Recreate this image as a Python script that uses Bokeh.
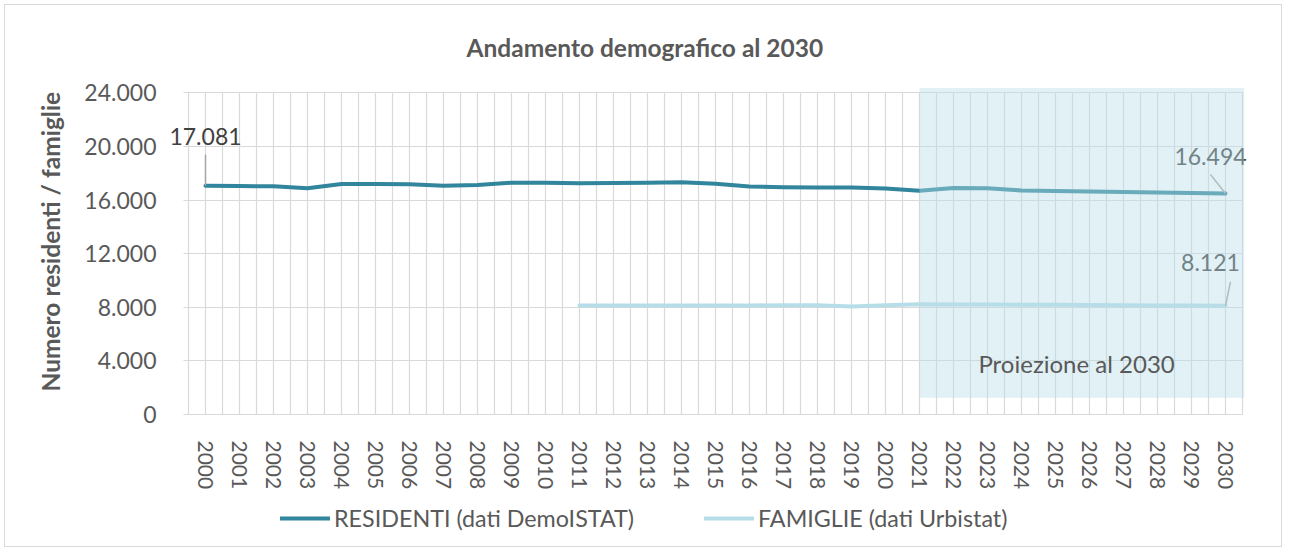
from bokeh.plotting import figure
from bokeh.models import (FixedTicker, Range1d, Legend, LegendItem, Label, BoxAnnotation, Grid, Title)
from bokeh.embed import file_html
from bokeh.resources import INLINE

# ---------------- data ----------------
years = list(range(2000, 2031))
residenti = [17081, 17050, 17030, 16880, 17200, 17210, 17180, 17070, 17130, 17300, 17290,
             17260, 17280, 17290, 17340, 17220, 17020, 16970, 16950, 16950, 16860,
             16700, 16900, 16890, 16720, 16680, 16640, 16610, 16570, 16540, 16494]
years_fam = list(range(2011, 2031))
famiglie = [8130, 8135, 8140, 8140, 8140, 8145, 8150, 8150, 8060, 8160,
            8230, 8215, 8205, 8195, 8185, 8175, 8160, 8145, 8135, 8121]
y_ticks = [0, 4000, 8000, 12000, 16000, 20000, 24000]
y_labels = ["0", "4.000", "8.000", "12.000", "16.000", "20.000", "24.000"]
proj_start = 2021
proj_bottom, proj_top = 1250, 24370

title = "Andamento demografico al 2030"
ylabel = "Numero residenti / famiglie"
name_res = "RESIDENTI (dati DemoISTAT)"
name_fam = "FAMIGLIE (dati Urbistat)"
proj_text = "Proiezione al 2030"

C_RES = "#31859C"
C_FAM = "#B7DEE8"
C_GRID = "#D9D9D9"
C_TXT = "#595959"
C_LBL = "#404040"
FONT = "Lato"

def fmt(v):
    return f"{v:,}".replace(",", ".")

# ---------------- scales ----------------
PX_X = 34.0                      # pixels per year
PX_Y = 327 / 24400               # pixels per unit
CAT0, CAT1 = years[0] - 0.5, years[-1] + 0.5
X0 = CAT0 - 25 / PX_X            # room on the left for the first data label
X1 = CAT1 + 10 / PX_X            # room on the right for the last data labels
Y0, Y1 = -9250, 25600            # room below the axis for tick labels and legend
FRAME_W = round((X1 - X0) * PX_X)
FRAME_H = round((Y1 - Y0) * PX_Y)
LEFT = 158
TOTAL_W = 1276

p = figure(frame_width=FRAME_W, frame_height=FRAME_H, output_backend="svg", toolbar_location=None,
           x_range=Range1d(X0, X1), y_range=Range1d(Y0, Y1),
           min_border_left=LEFT, min_border_right=TOTAL_W - LEFT - FRAME_W, min_border_top=66,
           min_border_bottom=8)
p.outline_line_color = None
p.background_fill_color = "white"
p.border_fill_color = "white"
p.styles = {"border": "1px solid #D9D9D9", "margin-left": "4px", "margin-top": "4px"}

# title
p.title.text = title
p.title.align = "left"
p.title.offset = 303
p.title.text_font = FONT
p.title.text_font_size = "24.5px"
p.title.text_font_style = "bold"
p.title.text_color = C_TXT
p.title.vertical_align = "middle"
p.title.standoff = 18

# x axis (labels drawn up into the frame, just under the zero line)
p.xaxis.ticker = FixedTicker(ticks=years, minor_ticks=[y - 0.5 for y in years] + [CAT1])
p.xaxis.bounds = (CAT0, CAT1)
p.xaxis.major_label_orientation = "vertical"
p.xaxis.major_label_text_font = FONT
p.xaxis.major_label_text_font_size = "21px"
p.xaxis.major_label_text_color = C_TXT
p.xaxis.major_label_standoff = -104
p.xaxis.major_tick_line_color = None
p.xaxis.minor_tick_line_color = None
p.xaxis.axis_line_color = None

# y axis
p.yaxis.ticker = FixedTicker(ticks=y_ticks)
p.yaxis.major_label_overrides = dict(zip(y_ticks, y_labels))
p.yaxis.major_label_text_font = FONT
p.yaxis.major_label_text_font_size = "23px"
p.yaxis.major_label_text_color = C_TXT
p.yaxis.major_tick_line_color = None
p.yaxis.minor_tick_line_color = None
p.yaxis.major_tick_out = 0
p.yaxis.major_label_standoff = 7
p.yaxis.axis_line_color = None

# y axis title, placed in the left panel
p.add_layout(Title(text=ylabel, align="left", offset=147, vertical_align="middle", standoff=31,
                   text_font=FONT, text_font_size="24.5px", text_font_style="bold",
                   text_color=C_TXT), "left")

# grids
p.xgrid.bounds = (CAT0, CAT1)
p.xgrid.grid_line_color = C_GRID
p.xgrid.minor_grid_line_color = C_GRID
p.xgrid.grid_line_width = 1.2
p.xgrid.minor_grid_line_width = 1.2
p.ygrid.grid_line_color = C_GRID
p.ygrid.grid_line_width = 1.2
if "cross_bounds" in Grid.properties():
    p.xgrid.cross_bounds = (y_ticks[0], y_ticks[-1])
    p.ygrid.cross_bounds = (CAT0 - 5 / PX_X, CAT1)

# lines
r_res = p.line(years, residenti, line_color=C_RES, line_width=4, line_join="round", line_cap="round")
r_fam = p.line(years_fam, famiglie, line_color=C_FAM, line_width=4, line_join="round", line_cap="round")

# leader lines
lx0 = [years[0], years[-1], years_fam[-1]]
ly0 = [residenti[0], residenti[-1], famiglie[-1]]
lx1 = [years[0], years[-1] - 15 / PX_X, years_fam[-1] + 5 / PX_X]
ly1 = [residenti[0] + 31 / PX_Y, residenti[-1] + 19 / PX_Y, famiglie[-1] + 24 / PX_Y]
p.segment(lx0, ly0, lx1, ly1, line_color="#A6A6A6", line_width=1.5)

# data labels
for x, y, dx, dy in [(years[0], residenti[0], 0, 49),
                     (years[-1], residenti[-1], -15, 37),
                     (years_fam[-1], famiglie[-1], -15, 43)]:
    p.add_layout(Label(x=x, y=y, x_offset=dx, y_offset=dy, text=fmt(y),
                       text_align="center", text_baseline="middle",
                       text_font=FONT, text_font_size="23px", text_color=C_LBL))

# projection shade
p.add_layout(BoxAnnotation(left=proj_start, right=CAT1 + 0.05, bottom=proj_bottom, top=proj_top,
                           fill_color=C_FAM, fill_alpha=0.42, line_color=None))
p.add_layout(Label(x=2025.62, y=3800, text=proj_text, text_align="center", text_baseline="middle",
                   text_font=FONT, text_font_size="24px", text_color=C_TXT))

# legend (inside the frame, below the tick labels)
legend = Legend(items=[LegendItem(label=name_res, renderers=[r_res]),
                       LegendItem(label=name_fam, renderers=[r_fam])],
                orientation="horizontal", location=(117, 6),
                glyph_width=50, glyph_height=20, label_standoff=4, spacing=70,
                padding=0, margin=0, border_line_color=None, background_fill_alpha=0,
                label_text_font=FONT, label_text_font_size="23.3px", label_text_color=C_TXT)
p.add_layout(legend)

open("out.html", "w").write(file_html(p, INLINE))
